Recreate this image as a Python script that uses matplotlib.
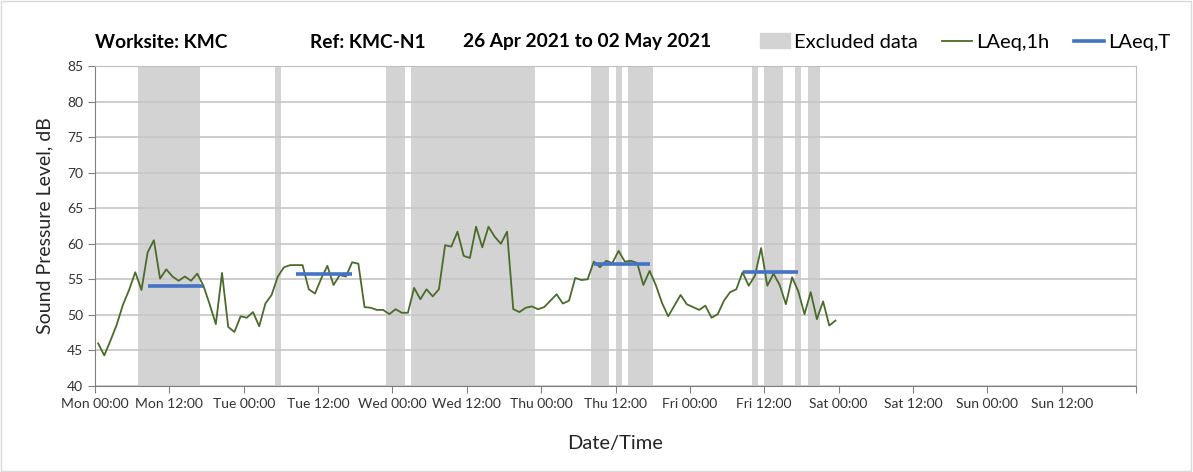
import matplotlib.pyplot as plt
import matplotlib.patches as mpatches
from matplotlib.lines import Line2D
import numpy as np

plt.rcParams['font.family'] = ['Lato', 'DejaVu Sans']

# hourly LAeq,1h values, Mon 00:00 -> Sat 00:00 (plotted at mid-hour)
laeq_1h = [
    46.0, 44.3, 46.4, 48.6, 51.4, 53.5, 56.0, 53.5, 58.8, 60.5, 55.1, 56.4,
    55.4, 54.8, 55.4, 54.8, 55.8, 54.1, 51.5, 48.7, 55.9, 48.3, 47.6, 49.8,  # Mon
    49.6, 50.4, 48.4, 51.6, 52.8, 55.4, 56.7, 57.0, 57.0, 57.0, 53.6, 53.0,
    55.1, 56.9, 54.2, 55.6, 55.4, 57.4, 57.2, 51.1, 51.0, 50.7, 50.7, 50.1,  # Tue
    50.8, 50.3, 50.3, 53.8, 52.2, 53.6, 52.6, 53.6, 59.8, 59.6, 61.7, 58.3,
    58.0, 62.4, 59.5, 62.4, 61.0, 60.0, 61.7, 50.8, 50.4, 51.0, 51.2, 50.8,  # Wed
    51.1, 52.0, 52.9, 51.6, 52.0, 55.2, 54.9, 55.0, 57.5, 56.7, 57.6, 57.3,
    59.0, 57.5, 57.6, 57.3, 54.2, 56.2, 54.2, 51.7, 49.8, 51.3, 52.8, 51.5,  # Thu
    51.1, 50.7, 51.3, 49.6, 50.1, 52.0, 53.2, 53.6, 56.0, 54.1, 55.5, 59.4,
    54.1, 55.8, 54.2, 51.5, 55.3, 53.3, 50.1, 53.2, 49.4, 51.9, 48.5, 49.2,  # Fri
]

# excluded periods, hours from Mon 00:00
excluded = [(7, 17), (29, 30), (47, 50), (51, 71), (80, 83), (84, 85),
            (86, 90), (106, 107), (108, 111), (113, 114), (115, 117)]

# LAeq,T daytime averages: (day index, level)
laeq_t_days = [0, 1, 3, 4]
laeq_t_vals = [54.0, 55.8, 57.2, 56.0]
t_start, t_end = 8.5, 17.5

tick_labels = ['Mon 00:00', 'Mon 12:00', 'Tue 00:00', 'Tue 12:00', 'Wed 00:00',
               'Wed 12:00', 'Thu 00:00', 'Thu 12:00', 'Fri 00:00', 'Fri 12:00',
               'Sat 00:00', 'Sat 12:00', 'Sun 00:00', 'Sun 12:00', '']

green = '#4a6b2a'
blue = '#4472c4'
band = '#d3d3d3'

fig = plt.figure(figsize=(11.93, 4.72), dpi=100)
ax = fig.add_axes([95 / 1193, 1 - 386 / 472, (1136 - 95) / 1193, (386 - 66) / 472])

for s, e in excluded:
    ax.axvspan(s, e, color=band, lw=0, zorder=0.1)

hours = np.arange(len(laeq_1h)) + 0.5
ax.plot(hours, laeq_1h, color=green, lw=1.3, zorder=3)

for d, v in zip(laeq_t_days, laeq_t_vals):
    ax.plot([d * 24 + t_start, d * 24 + t_end], [v, v], color=blue, lw=2.6,
            solid_capstyle='butt', zorder=4)

ax.set_xlim(0, 168)
ax.set_ylim(40, 85)
ax.set_yticks(np.arange(40, 86, 5))
ax.set_xticks(np.arange(0, 169, 12))
ax.set_xticklabels(tick_labels, fontsize=10, color='#333333')
ax.set_xticks(np.arange(0, 169, 24), minor=True)
ax.tick_params(axis='y', labelsize=10, labelcolor='#333333', color='#808080', length=5)
ax.tick_params(axis='x', which='major', color='#808080', length=5)
ax.tick_params(axis='x', which='minor', length=0)

ax.set_axisbelow(True)
ax.grid(axis='y', color='#c6c6c6', lw=1.2)
ax.grid(axis='x', which='minor', color='#d9d9d9', lw=1.2)
ax.grid(axis='x', which='major', visible=False)

for side in ['left', 'bottom']:
    ax.spines[side].set_color('#808080')
for side in ['top', 'right']:
    ax.spines[side].set_color('#bfbfbf')

ax.set_ylabel('Sound Pressure Level, dB', fontsize=14, color='#262626', labelpad=10)
ax.set_xlabel('Date/Time', fontsize=14.5, color='#262626', labelpad=18)

fig.text(95 / 1193, 1 - 42 / 472, 'Worksite: KMC', fontsize=13.8, fontweight='bold',
         va='center', ha='left')
fig.text(310 / 1193, 1 - 42 / 472, 'Ref: KMC-N1', fontsize=13.8, fontweight='bold',
         va='center', ha='left')
fig.text(463 / 1193, 1 - 42 / 472, '26 Apr 2021 to 02 May 2021', fontsize=13.8,
         fontweight='bold', va='center', ha='left')

handles = [mpatches.Patch(color=band, label='Excluded data'),
           Line2D([], [], color=green, lw=1.3, label='LAeq,1h'),
           Line2D([], [], color=blue, lw=2.6, label='LAeq,T')]
fig.legend(handles=handles, loc='center right', bbox_to_anchor=(1178 / 1193, 1 - 42 / 472),
           ncol=3, frameon=False, fontsize=14.5, handlelength=1.5, handletextpad=0.2,
           columnspacing=1.2, borderaxespad=0)

fig.patches.append(mpatches.Rectangle((0.001, 0.002), 0.997, 0.995, transform=fig.transFigure,
                                      fill=False, edgecolor='#d9d9d9', lw=1))

fig.savefig('out.png', dpi=100)
